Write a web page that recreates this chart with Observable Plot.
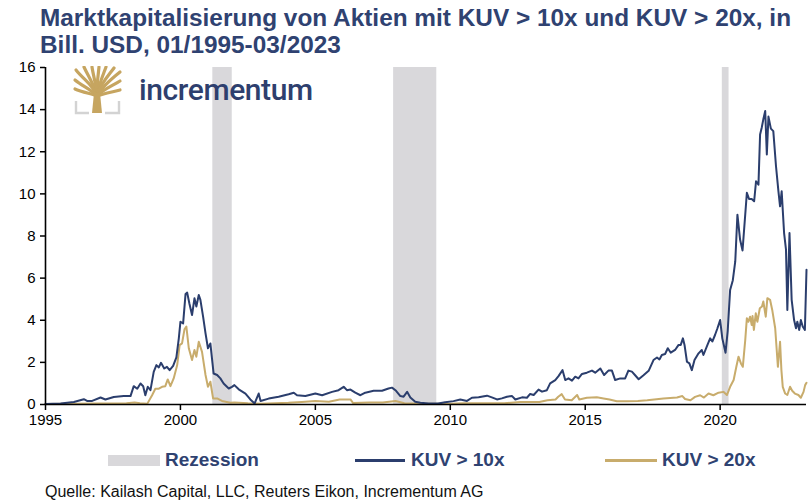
<!DOCTYPE html>
<html><head><meta charset="utf-8">
<script src="https://cdn.jsdelivr.net/npm/d3@7"></script>
<script src="https://cdn.jsdelivr.net/npm/@observablehq/plot@0.6"></script>
<style>
body{margin:0;background:#fff;}
#wrap{position:relative;width:810px;height:502px;overflow:hidden;font-family:"Liberation Sans Narrow","Arial Narrow","Liberation Sans",sans-serif;}
#title{position:absolute;left:40px;top:5px;font-weight:bold;font-size:23px;line-height:27px;color:#2F4271;white-space:nowrap;transform:scaleX(1.06);transform-origin:0 0;}
#chart{position:absolute;left:0;top:50px;}
#logo{position:absolute;left:72px;top:66px;}
#logotext{position:absolute;left:139px;top:72px;font-family:Roboto,sans-serif;font-weight:500;font-size:30px;color:#2E3F6E;letter-spacing:-0.4px;}
.leg{position:absolute;top:449px;font-weight:bold;font-size:19px;color:#2F4271;white-space:nowrap;}
.sw{position:absolute;}
#caption{position:absolute;left:45px;top:483px;font-size:16px;color:#111;white-space:nowrap;}
</style></head>
<body>
<div id="wrap">
  <div id="title">Marktkapitalisierung von Aktien mit KUV &gt; 10x und KUV &gt; 20x, in<br>Bill. USD, 01/1995-03/2023</div>
  <div id="chart"></div>
  <svg id="logo" width="52" height="50" viewBox="0 0 52 50">
    <g fill="none" stroke="#C6A560" stroke-width="3.2" stroke-linecap="round">
      <path d="M25,30 C22,20 12,14 4,4"/>
      <path d="M25,30 C22,18 16,10 12,1"/>
      <path d="M25,30 C24,18 21,8 20,1"/>
      <path d="M25,30 C25,18 26,8 27,1"/>
      <path d="M25,30 C27,18 31,9 34,1"/>
      <path d="M25,30 C28,18 36,10 42,2"/>
      <path d="M25,30 C29,22 38,14 48,6"/>
      <path d="M25,30 C20,24 10,20 3,14"/>
      <path d="M25,30 C30,24 40,20 48,15"/>
      <path d="M25,30 C20,28 10,26 3,23"/>
      <path d="M25,30 C30,28 40,26 48,24"/>
    </g>
    <path d="M20,47 L30,47 L28,27 L22,27 Z" fill="#C6A560"/>
    <g fill="none" stroke="#D3D3D3" stroke-width="2.4">
      <path d="M4,35 L4,47 L17,47"/>
      <path d="M33,47 L47,47 L47,35"/>
    </g>
  </svg>
  <div id="logotext">incrementum</div>
  <div class="sw" style="left:108px;top:455px;width:52px;height:11px;background:#D9D8DB;"></div>
  <div class="leg" style="left:165px;">Rezession</div>
  <div class="sw" style="left:355px;top:459px;width:50px;height:2.5px;background:#2B3E6D;"></div>
  <div class="leg" style="left:411px;">KUV &gt; 10x</div>
  <div class="sw" style="left:605px;top:459px;width:52px;height:2.5px;background:#C8AC6C;"></div>
  <div class="leg" style="left:662px;">KUV &gt; 20x</div>
  <div id="caption">Quelle: Kailash Capital, LLC, Reuters Eikon, Incrementum AG</div>
</div>
<script>
const xTicks = [1995, 2000, 2005, 2010, 2015, 2020];
const yTicks = [0, 2, 4, 6, 8, 10, 12, 14, 16];
const recessionStart = [2001.2, 2007.9, 2020.08];
const recessionEnd = [2001.92, 2009.5, 2020.33];

const years10 = [1995.0,1995.56,1996.05,1996.42,1996.54,1996.73,1997.04,1997.22,1997.53,1997.9,1998.15,1998.27,1998.4,1998.52,1998.62,1998.7,1998.79,1998.89,1999.01,1999.11,1999.2,1999.28,1999.4,1999.5,1999.6,1999.73,1999.85,1999.94,2000.0,2000.1,2000.19,2000.25,2000.33,2000.43,2000.52,2000.59,2000.68,2000.74,2000.84,2000.93,2001.02,2001.11,2001.17,2001.23,2001.36,2001.48,2001.6,2001.79,2001.91,2002.0,2002.16,2002.41,2002.59,2002.75,2002.9,2002.97,2003.27,2003.64,2004.01,2004.2,2004.32,2004.63,2005.0,2005.25,2005.62,2005.86,2006.05,2006.17,2006.3,2006.48,2006.67,2006.85,2007.16,2007.47,2007.71,2007.84,2007.99,2008.15,2008.27,2008.4,2008.52,2008.7,2008.89,2009.2,2009.55,2009.81,2010.12,2010.37,2010.62,2010.8,2011.05,2011.36,2011.54,2011.73,2011.91,2012.1,2012.29,2012.41,2012.66,2012.84,2012.96,2013.09,2013.27,2013.4,2013.58,2013.7,2013.89,2014.01,2014.16,2014.26,2014.38,2014.51,2014.63,2014.75,2014.88,2015.06,2015.25,2015.37,2015.56,2015.7,2015.86,2015.99,2016.11,2016.3,2016.48,2016.6,2016.73,2016.85,2016.98,2017.16,2017.35,2017.53,2017.66,2017.75,2017.84,2017.96,2018.06,2018.17,2018.33,2018.46,2018.54,2018.62,2018.68,2018.77,2018.86,2018.95,2019.05,2019.2,2019.32,2019.38,2019.53,2019.63,2019.71,2019.81,2019.9,2020.0,2020.08,2020.2,2020.28,2020.37,2020.47,2020.56,2020.64,2020.74,2020.83,2020.99,2021.07,2021.17,2021.26,2021.33,2021.42,2021.48,2021.54,2021.6,2021.67,2021.73,2021.79,2021.88,2021.97,2022.07,2022.16,2022.22,2022.28,2022.37,2022.44,2022.49,2022.57,2022.65,2022.74,2022.81,2022.86,2022.93,2022.99,2023.06,2023.14,2023.2];
const kuv10 = [0.02,0.05,0.12,0.25,0.17,0.17,0.33,0.24,0.36,0.40,0.40,0.87,0.75,1.00,0.87,0.44,0.84,0.68,1.55,1.87,1.76,1.98,1.71,1.79,1.63,1.83,2.24,3.14,3.93,3.85,5.25,5.31,4.81,4.25,5.04,4.65,5.20,4.97,4.17,3.38,2.67,2.90,2.18,1.47,1.40,1.24,1.00,0.76,0.84,0.92,0.72,0.52,0.24,0.05,0.52,0.17,0.28,0.37,0.49,0.56,0.44,0.40,0.52,0.44,0.60,0.68,0.84,0.68,0.71,0.56,0.44,0.56,0.65,0.65,0.76,0.80,0.65,0.40,0.37,0.60,0.33,0.13,0.08,0.05,0.05,0.11,0.16,0.24,0.17,0.32,0.34,0.42,0.34,0.24,0.29,0.37,0.40,0.24,0.34,0.32,0.50,0.45,0.71,0.61,0.68,1.00,1.16,1.35,1.63,1.16,1.24,1.13,1.32,1.24,1.45,1.51,1.61,1.51,1.71,1.40,1.61,1.61,1.16,1.24,1.24,1.61,1.56,1.39,1.20,1.39,1.60,2.11,2.23,2.14,2.35,2.40,2.67,2.46,2.59,2.83,2.83,3.14,2.83,2.03,1.95,1.63,2.11,2.43,2.59,2.35,2.83,3.14,2.99,3.30,3.62,4.01,3.14,2.46,3.49,5.44,5.90,6.79,9.01,7.82,7.31,10.05,9.76,9.76,9.65,10.60,10.44,12.82,13.14,13.54,13.93,11.87,13.67,13.10,12.98,11.31,10.12,9.41,10.12,8.14,7.35,4.49,8.14,4.97,4.01,3.62,3.93,3.54,4.01,3.70,3.54,6.40];

const years20 = [1995.0,1996.0,1997.0,1998.0,1998.3,1998.5,1998.77,1998.95,1999.07,1999.2,1999.32,1999.44,1999.53,1999.63,1999.75,1999.88,1999.97,2000.06,2000.15,2000.22,2000.31,2000.43,2000.52,2000.59,2000.68,2000.8,2000.93,2001.02,2001.11,2001.21,2001.36,2001.54,2001.85,2002.0,2002.5,2003.0,2003.5,2004.0,2004.5,2005.0,2005.5,2005.9,2006.3,2006.4,2007.0,2007.5,2007.97,2008.3,2009.0,2010.0,2010.5,2011.0,2012.0,2012.6,2013.3,2013.6,2013.9,2014.0,2014.13,2014.25,2014.5,2014.7,2014.78,2015.06,2015.43,2015.68,2015.9,2016.17,2016.54,2016.95,2017.3,2017.9,2018.4,2018.6,2018.7,2018.9,2019.07,2019.26,2019.4,2019.57,2019.75,2019.94,2020.12,2020.25,2020.37,2020.5,2020.6,2020.68,2020.77,2020.84,2020.93,2020.99,2021.05,2021.11,2021.17,2021.2,2021.25,2021.32,2021.38,2021.47,2021.55,2021.6,2021.69,2021.75,2021.85,2021.93,2022.04,2022.14,2022.22,2022.27,2022.32,2022.41,2022.49,2022.59,2022.67,2022.77,2022.9,2022.99,2023.09,2023.15,2023.2];
const kuv20 = [0.02,0.03,0.05,0.06,0.10,0.06,0.03,0.44,0.75,0.75,0.84,0.87,1.19,0.87,1.24,1.87,2.82,2.90,3.57,3.70,2.67,2.11,2.59,2.27,2.98,2.50,1.40,0.84,1.08,0.29,0.29,0.17,0.08,0.10,0.06,0.04,0.06,0.08,0.12,0.17,0.13,0.24,0.24,0.07,0.10,0.09,0.17,0.06,0.03,0.04,0.06,0.06,0.06,0.12,0.12,0.20,0.24,0.37,0.49,0.24,0.20,0.45,0.24,0.32,0.34,0.29,0.24,0.15,0.15,0.17,0.20,0.29,0.33,0.40,0.26,0.20,0.36,0.44,0.33,0.52,0.44,0.56,0.60,0.45,0.84,1.16,1.79,2.27,1.95,1.79,3.06,4.10,3.93,4.17,3.77,4.20,3.54,4.33,3.93,4.57,4.65,4.89,4.17,5.05,4.97,4.49,3.62,1.79,2.98,1.63,0.84,0.52,0.45,0.84,0.65,0.52,0.45,0.32,0.60,0.92,1.03];

const recessions = recessionStart.map((s, i) => ({start: s, end: recessionEnd[i]}));
const s10 = years10.map((y, i) => ({year: y, value: kuv10[i]}));
const s20 = years20.map((y, i) => ({year: y, value: kuv20[i]}));
const FONT = '"Liberation Sans Narrow","Arial Narrow","Liberation Sans",sans-serif';

const chart = Plot.plot({
  width: 810, height: 387,
  marginTop: 17, marginBottom: 33, marginLeft: 45, marginRight: 4,
  x: {domain: [1995, 2023.2]},
  y: {domain: [0, 16]},
  style: {fontFamily: FONT, fontSize: "15px", color: "#000", background: "transparent"},
  marks: [
    Plot.rect(recessions, {x1: "start", x2: "end", fill: "#D9D8DB"}),
    Plot.line(s20, {x: "year", y: "value", stroke: "#C8AC6C", strokeWidth: 2}),
    Plot.line(s10, {x: "year", y: "value", stroke: "#2B3E6D", strokeWidth: 2}),
    Plot.ruleY([0], {stroke: "#000", strokeWidth: 1.6}),
    Plot.ruleX([1995], {stroke: "#000", strokeWidth: 1.6}),
    Plot.axisX({ticks: xTicks, tickSize: 6, tickPadding: 4, tickFormat: d => String(d), label: null, strokeWidth: 1.5}),
    Plot.axisY({ticks: yTicks, tickSize: 5, tickPadding: 5, label: null, strokeWidth: 1.5})
  ]
});
document.getElementById("chart").appendChild(chart);
</script>
</body></html>
